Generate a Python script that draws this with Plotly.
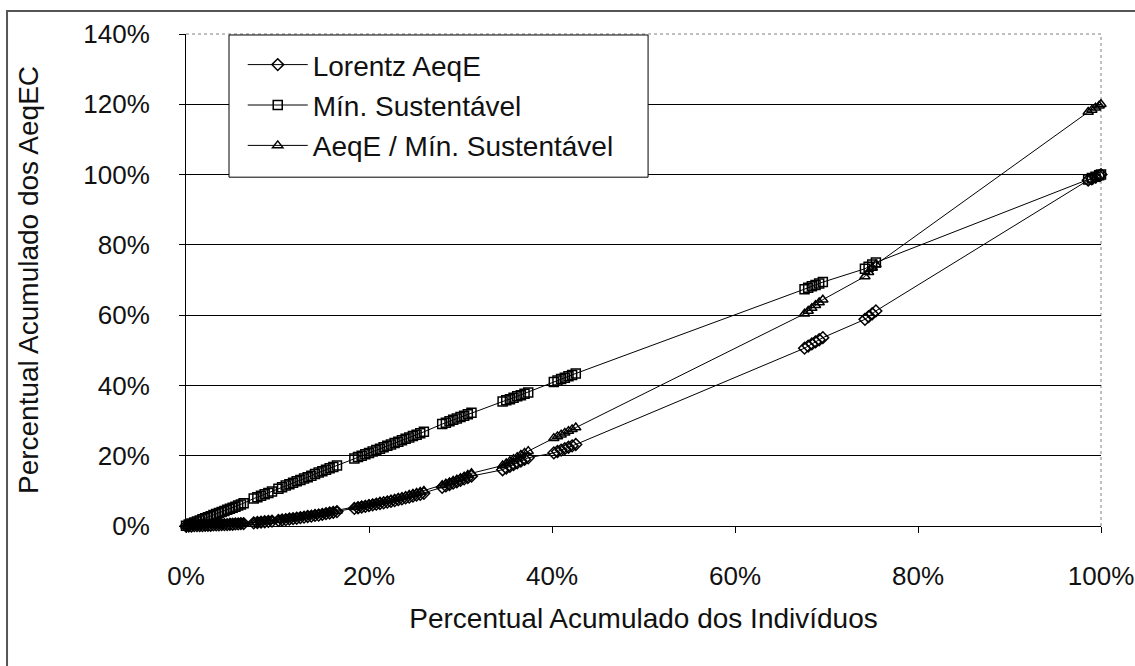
import plotly.graph_objects as go

# Cumulative % of individuals (x)
x_ind = [
    0.0, 0.3, 0.6, 0.9, 1.2, 1.5, 1.8, 2.1, 2.4, 2.7, 3.0, 3.3, 3.6, 3.9, 4.2, 4.5, 4.8, 5.1, 5.4, 5.7, 6.0, 6.3,
    7.4, 7.8, 8.2, 8.6, 9.0, 9.4,
    10.1, 10.5, 10.9, 11.3, 11.7, 12.1, 12.5, 12.9, 13.3, 13.7, 14.1, 14.5, 14.9, 15.3, 15.7, 16.1, 16.5,
    18.4, 18.8, 19.2, 19.6, 20.0, 20.4, 20.8, 21.2, 21.6, 22.0, 22.4, 22.8, 23.2, 23.6, 24.0, 24.4, 24.8, 25.2, 25.6, 26.0,
    28.0, 28.4, 28.8, 29.2, 29.6, 30.0, 30.4, 30.8, 31.2,
    34.6, 35.0, 35.4, 35.8, 36.2, 36.6, 37.0, 37.4,
    40.2, 40.6, 41.0, 41.4, 41.8, 42.2, 42.6,
    67.6, 68.0, 68.4, 68.8, 69.2, 69.6,
    74.2, 74.6, 75.0, 75.4,
    98.6, 99.0, 99.4, 99.8, 100.0,
]

lorentz_aeqe = [
    0.0, 0.0, 0.0, 0.1, 0.1, 0.1, 0.1, 0.2, 0.2, 0.2, 0.3, 0.3, 0.3, 0.4, 0.4, 0.4, 0.5, 0.5, 0.6, 0.6, 0.7, 0.7,
    0.9, 1.0, 1.1, 1.2, 1.3, 1.4,
    1.6, 1.7, 1.8, 2.0, 2.1, 2.2, 2.4, 2.5, 2.7, 2.8, 3.0, 3.1, 3.3, 3.5, 3.7, 3.9, 4.1,
    5.0, 5.2, 5.4, 5.6, 5.8, 6.0, 6.2, 6.4, 6.6, 6.8, 7.0, 7.2, 7.5, 7.7, 8.0, 8.2, 8.5, 8.8, 9.0, 9.3,
    11.0, 11.4, 11.8, 12.2, 12.6, 13.0, 13.4, 13.8, 14.2,
    16.0, 16.5, 17.0, 17.5, 18.0, 18.5, 19.0, 19.4,
    20.8, 21.2, 21.6, 22.0, 22.4, 22.8, 23.2,
    50.6, 51.2, 51.8, 52.4, 53.0, 53.6,
    58.8, 59.6, 60.4, 61.2,
    98.4, 98.8, 99.3, 99.7, 100.0,
]

min_sustentavel = [
    0.1, 0.4, 0.7, 1.0, 1.3, 1.6, 1.9, 2.2, 2.5, 2.8, 3.1, 3.4, 3.7, 4.0, 4.3, 4.6, 4.9, 5.2, 5.5, 5.8, 6.1, 6.5,
    7.8, 8.2, 8.6, 9.0, 9.4, 9.8,
    10.6, 11.0, 11.5, 11.9, 12.3, 12.7, 13.1, 13.5, 13.9, 14.3, 14.8, 15.2, 15.6, 16.0, 16.4, 16.8, 17.2,
    19.2, 19.6, 20.0, 20.4, 20.8, 21.2, 21.6, 22.0, 22.4, 22.8, 23.2, 23.6, 24.0, 24.4, 24.8, 25.2, 25.6, 26.0, 26.4, 26.8,
    29.0, 29.4, 29.8, 30.2, 30.6, 31.0, 31.4, 31.8, 32.2,
    35.4, 35.8, 36.1, 36.5, 36.9, 37.2, 37.6, 38.0,
    41.0, 41.4, 41.8, 42.2, 42.6, 43.0, 43.4,
    67.4, 67.8, 68.2, 68.6, 69.0, 69.4,
    73.2, 73.8, 74.4, 75.0,
    98.6, 99.0, 99.4, 99.8, 100.0,
]

aeqe_min = [
    0.0, 0.0, 0.1, 0.1, 0.1, 0.2, 0.2, 0.2, 0.3, 0.3, 0.3, 0.4, 0.4, 0.4, 0.5, 0.5, 0.6, 0.6, 0.7, 0.7, 0.8, 0.8,
    1.0, 1.1, 1.2, 1.3, 1.4, 1.5,
    1.7, 1.8, 2.0, 2.1, 2.2, 2.4, 2.5, 2.7, 2.9, 3.0, 3.2, 3.4, 3.5, 3.7, 3.9, 4.1, 4.3,
    5.3, 5.5, 5.7, 5.9, 6.1, 6.3, 6.5, 6.8, 7.0, 7.2, 7.5, 7.7, 8.0, 8.2, 8.5, 8.8, 9.1, 9.4, 9.7, 10.0,
    11.6, 12.0, 12.4, 12.8, 13.2, 13.6, 14.0, 14.5, 15.0,
    17.2, 17.8, 18.4, 19.0, 19.6, 20.2, 20.8, 21.3,
    25.0, 25.5, 26.0, 26.5, 27.0, 27.5, 28.0,
    60.4, 61.2, 62.0, 62.8, 63.6, 64.4,
    71.0, 72.2, 73.4, 74.4,
    117.8, 118.4, 119.0, 119.6, 120.0,
]

series_names = ["Lorentz AeqE", "Mín. Sustentável", "AeqE / Mín. Sustentável"]
x_ticks = [0, 20, 40, 60, 80, 100]
y_ticks = [0, 20, 40, 60, 80, 100, 120, 140]

FONT = "Liberation Sans, Arial, sans-serif"

fig = go.Figure()
for i, (name, ys, sym) in enumerate(zip(series_names, [lorentz_aeqe, min_sustentavel, aeqe_min],
                                        ["diamond-open", "square-open", "triangle-up-open"])):
    fig.add_trace(go.Scatter(
        x=x_ind, y=ys, name=name, mode="lines+markers", legendgroup=f"g{i}",
        line=dict(color="black", width=1),
        marker=dict(symbol=sym, size=9, color="black", line=dict(color="black", width=1.5)),
        cliponaxis=False,
    ))

fig.update_layout(
    width=1135, height=666,
    margin=dict(l=186, r=34, t=34, b=140, autoexpand=False),
    paper_bgcolor="white", plot_bgcolor="white",
    font=dict(family=FONT, size=28, color="#111111"),
    showlegend=True,
    legend=dict(
        x=0.062, y=0.988, xanchor="left", yanchor="top",
        bgcolor="rgba(0,0,0,0)", borderwidth=0,
        font=dict(family=FONT, size=28, color="#111111"),
        itemwidth=60, tracegroupgap=1,
    ),
    xaxis=dict(
        range=[0, 100], tickvals=x_ticks, ticktext=[f"{v}%" for v in x_ticks],
        showgrid=False, zeroline=False, automargin=False,
        showline=True, linecolor="black", linewidth=1,
        ticks="outside", ticklen=6, tickcolor="black",
        tickfont=dict(family=FONT, size=26),
        ticklabelstandoff=21, ticklabeloverflow="allow",
        title=dict(text="Percentual Acumulado dos Indivíduos", standoff=18,
                   font=dict(family=FONT, size=28)),
    ),
    yaxis=dict(
        range=[0, 140], tickvals=y_ticks, ticktext=[f"{v}%" for v in y_ticks],
        showgrid=True, gridcolor="black", gridwidth=1, zeroline=False, automargin=False,
        showline=True, linecolor="black", linewidth=1,
        ticks="outside", ticklen=6, tickcolor="black",
        tickfont=dict(family=FONT, size=26),
        ticklabelstandoff=24, ticklabeloverflow="allow",
        title=dict(text="Percentual Acumulado dos AeqEC", standoff=36,
                   font=dict(family=FONT, size=28)),
    ),
    shapes=[
        # plot area border (top and right, grey dotted)
        dict(type="line", xref="x domain", yref="y domain", x0=0, x1=1, y0=1, y1=1,
             line=dict(color="white", width=3), layer="above"),
        dict(type="line", xref="x domain", yref="y domain", x0=0, x1=1, y0=1, y1=1,
             line=dict(color="#808080", width=1, dash="dot"), layer="above"),
        dict(type="line", xref="x domain", yref="y domain", x0=1, x1=1, y0=0, y1=1,
             line=dict(color="#808080", width=1, dash="dot"), layer="below"),
        # legend box
        dict(type="rect", xref="paper", yref="paper", x0=0.047, x1=0.505, y0=0.709, y1=0.998,
             line=dict(color="black", width=1), fillcolor="white", layer="above"),
        # outer chart frame
        dict(type="rect", xref="paper", yref="paper", x0=-0.1956, x1=1.2, y0=-0.5, y1=1.0467,
             line=dict(color="#555555", width=2), fillcolor="rgba(0,0,0,0)", layer="above"),
    ],
)

fig.write_html("out.html", config={"displayModeBar": False},
               post_script="document.body.style.margin='0';")
